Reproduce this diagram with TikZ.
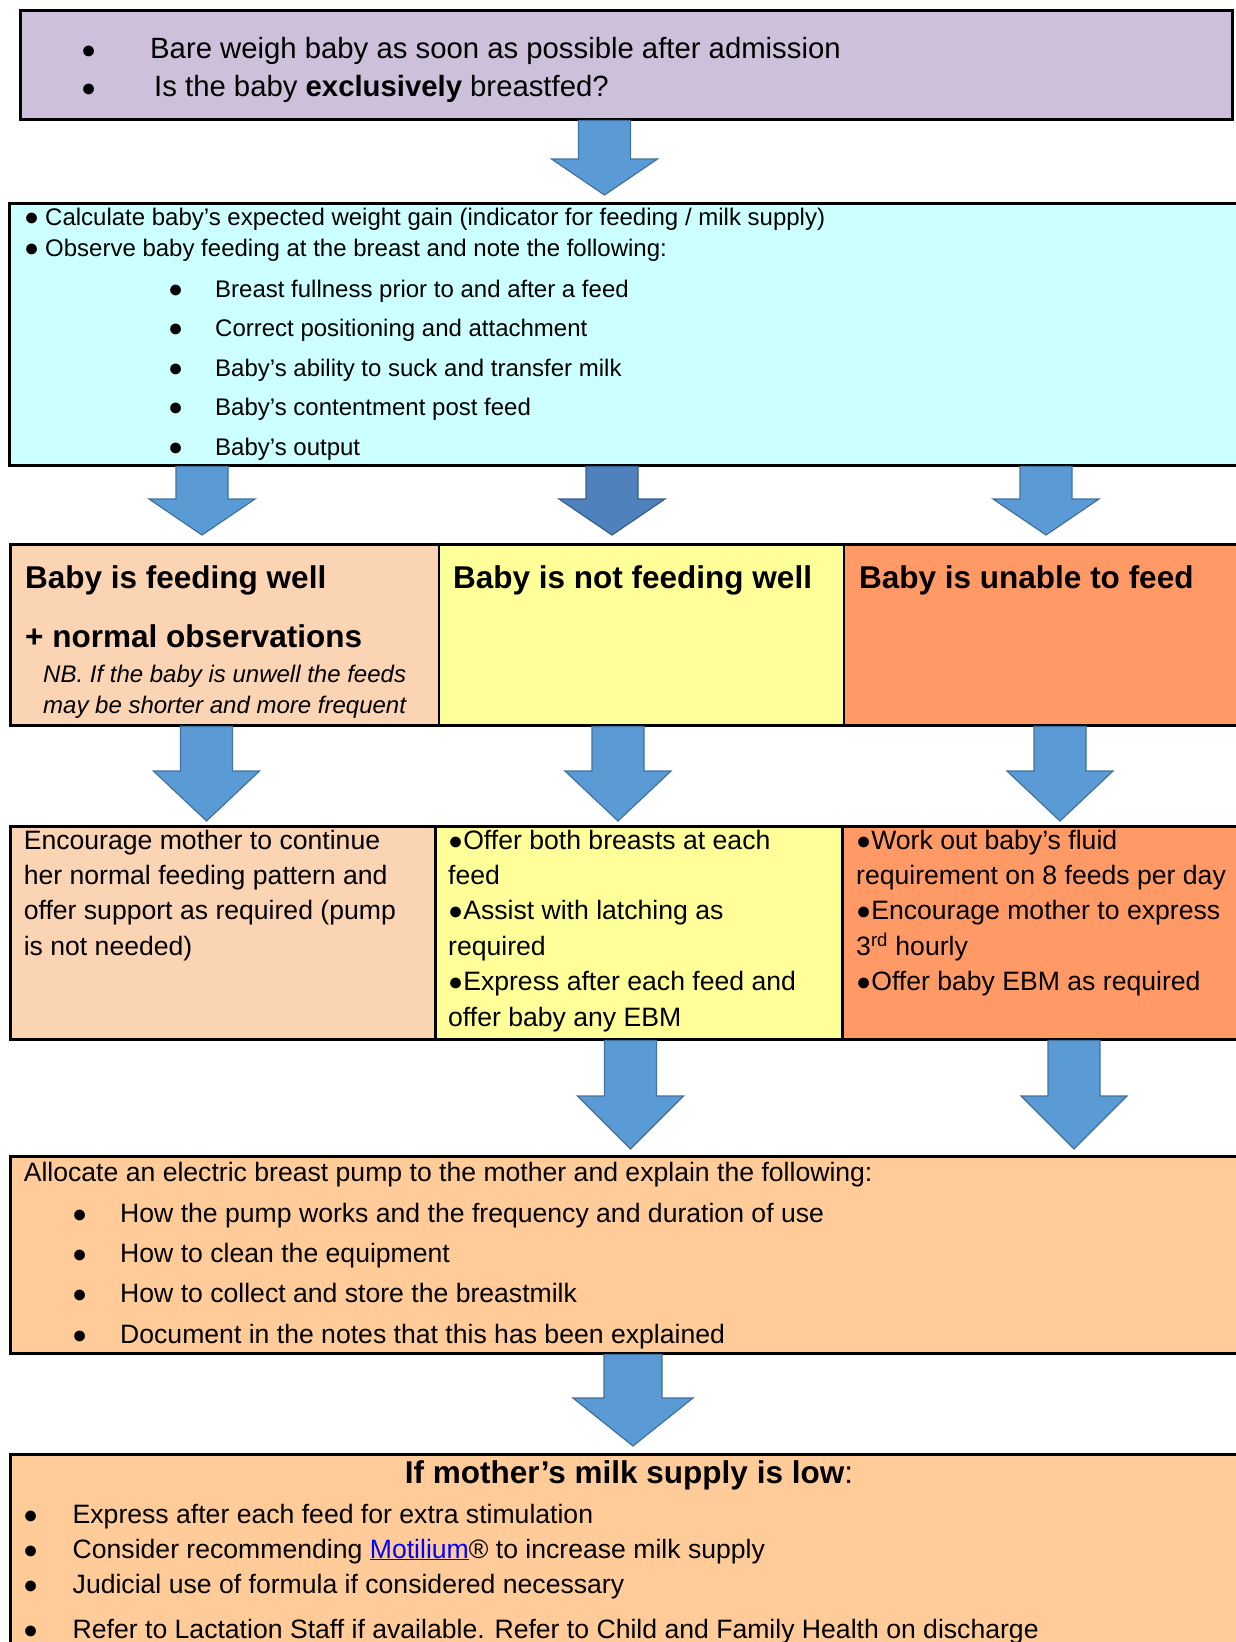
\documentclass[tikz,border=0pt]{standalone}
\usepackage{fontspec}
\setmainfont{Liberation Sans}
\usepackage{tikz}
\usetikzlibrary{positioning, calc}

\definecolor{lilac}{HTML}{CCC0DA}
\definecolor{aqua}{HTML}{CCFFFF}
\definecolor{peach}{HTML}{FBD4B4}
\definecolor{lemon}{HTML}{FFFF99}
\definecolor{coral}{HTML}{FF9966}
\definecolor{apricot}{HTML}{FFCC99}
\definecolor{arrfill}{HTML}{5B9BD5}
\definecolor{arrline}{HTML}{41719C}
\definecolor{arrdark}{HTML}{4F81BD}
\definecolor{arrdarkline}{HTML}{385D8A}
\definecolor{linkblue}{HTML}{0000FF}

\newcommand{\bdot}{{\fontsize{25}{25}\selectfont ●}}

\tikzset{
  headlen/.store in=\headlen, headlen=50,
  tipgap/.store in=\tipgap, tipgap=6,
  shafthw/.store in=\shafthw, shafthw=26,
  headhw/.store in=\headhw, headhw=53,
}

\begin{document}
\begin{tikzpicture}[x=1pt, y=-1pt,
    box/.style={draw=black, line width=2.5pt, anchor=north west, inner sep=0pt},
    txt/.style={anchor=base west, align=left, inner sep=0pt, font={\fontsize{26.6}{35.4}\selectfont}},
    smalltxt/.style={anchor=base west, align=left, inner sep=0pt, font={\fontsize{24}{31.7}\selectfont}},
    title/.style={anchor=base west, inner sep=0pt, font={\fontsize{31.5}{38}\selectfont\bfseries}},
    blockarr/.style={draw=arrline, fill=arrfill, line width=1.2pt,
      to path={let \p1=(\tikztostart), \p2=(\tikztotarget) in
        (\x1-\shafthw pt,\y1) -- (\x1+\shafthw pt,\y1)
        -- (\x1+\shafthw pt,\y2+\tipgap pt+\headlen pt) -- (\x1+\headhw pt,\y2+\tipgap pt+\headlen pt)
        -- (\x1,\y2+\tipgap pt)
        -- (\x1-\headhw pt,\y2+\tipgap pt+\headlen pt) -- (\x1-\shafthw pt,\y2+\tipgap pt+\headlen pt)
        -- cycle}},
  ]
  \useasboundingbox (0,0) rectangle (1236,1642);
  \clip (0,0) rectangle (1236,1642);

  % boxes
  \node[box, fill=lilac, minimum width=1212, minimum height=109] (weigh) at (19,9) {};
  \node[box, fill=aqua, minimum width=1240, minimum height=262] (observe) at (8,202) {};
  \node[box, fill=peach, minimum width=428.5, minimum height=181] (well) at (9,543) {};
  \node[box, fill=lemon, minimum width=405, minimum height=181] (notwell) at (437.5,543) {};
  \node[box, fill=coral, minimum width=405, minimum height=181] (unable) at (842.5,543) {};
  \node[box, fill=peach, minimum width=425, minimum height=213] (encourage) at (9,825) {};
  \node[box, fill=lemon, minimum width=407, minimum height=213] (assist) at (434,825) {};
  \node[box, fill=coral, minimum width=405, minimum height=213] (workout) at (841,825) {};
  \node[box, fill=apricot, minimum width=1240, minimum height=197] (pump) at (9,1155) {};
  \node[box, fill=apricot, minimum width=1240, minimum height=230] (lowsupply) at (9,1453) {};

  % texts (multi-line nodes sit on their last baseline)
  \node[txt, font={\fontsize{29.3}{37.7}\selectfont}] (weightxt) at (81,96)
    {\makebox[69pt][l]{\bdot}Bare weigh baby as soon as possible after admission\\
     \makebox[73pt][l]{\bdot}Is the baby \textbf{exclusively} breastfed?};
  \node[smalltxt] (observetxt) at (24,256.7)
    {\makebox[21pt][l]{\bdot}Calculate baby’s expected weight gain (indicator for feeding / milk supply)\\
     \makebox[21pt][l]{\bdot}Observe baby feeding at the breast and note the following:};
  \node[smalltxt, font={\fontsize{24}{39.5}\selectfont}] (checklist) at (168,455)
    {\makebox[47pt][l]{\bdot}Breast fullness prior to and after a feed\\
     \makebox[47pt][l]{\bdot}Correct positioning and attachment\\
     \makebox[47pt][l]{\bdot}Baby’s ability to suck and transfer milk\\
     \makebox[47pt][l]{\bdot}Baby’s contentment post feed\\
     \makebox[47pt][l]{\bdot}Baby’s output};

  \node[title] (welltxt) at (25,588) {Baby is feeding well};
  \node[title] (normaltxt) at (25,647) {+ normal observations};
  \node[smalltxt, font={\fontsize{24}{31}\selectfont\itshape}] (nbtxt) at (43,713)
    {NB. If the baby is unwell the feeds\\may be shorter and more frequent};
  \node[title] (notwelltxt) at (453,588) {Baby is not feeding well};
  \node[title] (unabletxt) at (859,588) {Baby is unable to feed};

  \node[txt] (encouragetxt) at (23.6,955.2)
    {Encourage mother to continue\\her normal feeding pattern and\\offer support as required (pump\\is not needed)};
  \node[txt] (assisttxt) at (448,1026)
    {\bdot Offer both breasts at each\\feed\\\bdot Assist with latching as\\required\\\bdot Express after each feed and\\offer baby any EBM};
  \node[txt] (workouttxt) at (856,990.6)
    {\bdot Work out baby’s fluid\\requirement on 8 feeds per day\\\bdot Encourage mother to express\\3\textsuperscript{rd} hourly\\\bdot Offer baby EBM as required};

  \node[txt] (pumptxt) at (23.6,1181)
    {Allocate an electric breast pump to the mother and explain the following:};
  \node[txt, font={\fontsize{26.6}{40.3}\selectfont}] (pumplist) at (72,1343)
    {\makebox[48pt][l]{\bdot}How the pump works and the frequency and duration of use\\
     \makebox[48pt][l]{\bdot}How to clean the equipment\\
     \makebox[48pt][l]{\bdot}How to collect and store the breastmilk\\
     \makebox[48pt][l]{\bdot}Document in the notes that this has been explained};

  \node[title, anchor=base] (lowtxt) at (629,1483) {If mother’s milk supply is low\textmd{:}};
  \node[txt, font={\fontsize{26.6}{35}\selectfont}] (lowlist) at (23,1638)
    {\makebox[49.5pt][l]{\bdot}Express after each feed for extra stimulation\\
     \makebox[49.5pt][l]{\bdot}Consider recommending {\color{linkblue}\underline{Motilium}}® to increase milk supply\\
     \makebox[49.5pt][l]{\bdot}Judicial use of formula if considered necessary\\[10pt]
     \makebox[49.5pt][l]{\bdot}Refer to Lactation Staff if available. Refer to Child and Family Health on discharge};

  % arrows
  \draw[blockarr, headlen=36, tipgap=7] ([xshift=585.5pt]weigh.south west) to (observe.north);
  \draw[blockarr, headlen=36, tipgap=8] ([xshift=194pt]observe.south west) to (well.north);
  \draw[blockarr, headlen=36, tipgap=8, fill=arrdark, draw=arrdarkline] ([xshift=604pt]observe.south west) to (notwell.north);
  \draw[blockarr, headlen=36, tipgap=8] ([xshift=1038pt]observe.south west) to (unable.north);
  \draw[blockarr, headlen=50, tipgap=4] ([xshift=197.5pt]well.south west) to (encourage.north);
  \draw[blockarr, headlen=50, tipgap=4] ([xshift=180.5pt]notwell.south west) to (assist.north);
  \draw[blockarr, headlen=50, tipgap=4] ([xshift=217.5pt]unable.south west) to (workout.north);
  \draw[blockarr, headlen=53, tipgap=6] ([xshift=196.5pt]assist.south west) to (pump.north);
  \draw[blockarr, headlen=53, tipgap=6] ([xshift=233pt]workout.south west) to (pump.north);
  \draw[blockarr, headlen=48, tipgap=7, shafthw=29, headhw=60] ([xshift=624pt]pump.south west) to (lowsupply.north);
\end{tikzpicture}
\end{document}
